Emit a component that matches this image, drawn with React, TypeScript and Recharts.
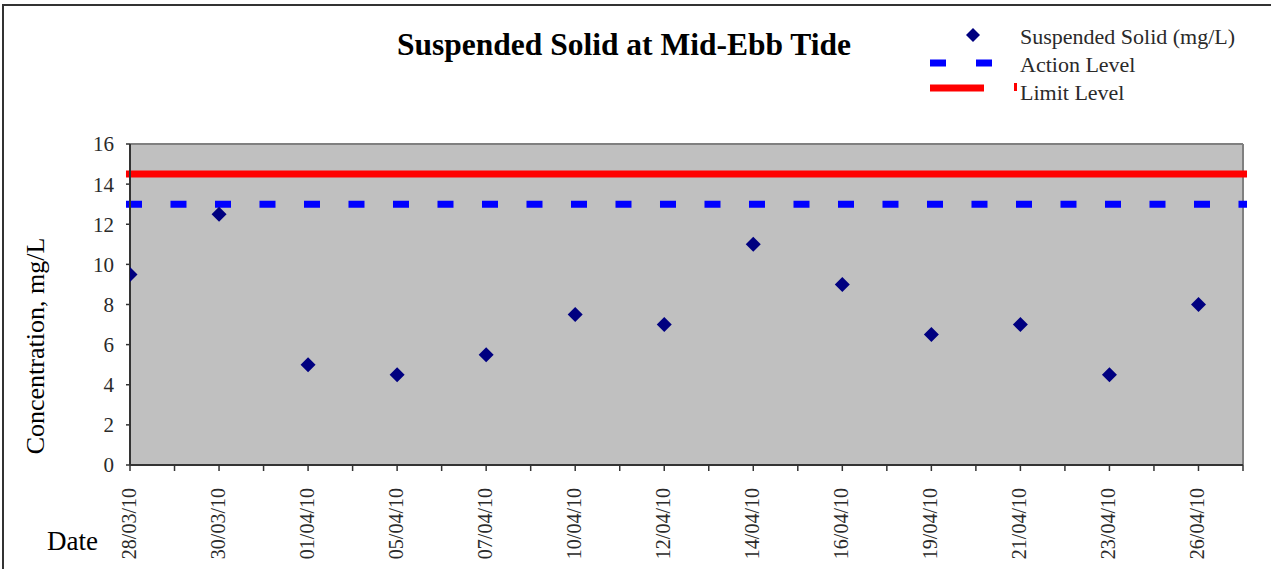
import {
  CartesianGrid,
  ComposedChart,
  ReferenceLine,
  Scatter,
  XAxis,
  YAxis,
} from "recharts";

const dates = [
  "28/03/10",
  "30/03/10",
  "01/04/10",
  "05/04/10",
  "07/04/10",
  "10/04/10",
  "12/04/10",
  "14/04/10",
  "16/04/10",
  "19/04/10",
  "21/04/10",
  "23/04/10",
  "26/04/10",
];
const solids = [9.5, 12.5, 5, 4.5, 5.5, 7.5, 7, 11, 9, 6.5, 7, 4.5, 8];
const actionLevel = 13;
const limitLevel = 14.5;
const yTicks = [0, 2, 4, 6, 8, 10, 12, 14, 16];
// every date sits on an even slot, odd slots are plain tick marks
const slotCount = dates.length * 2 - 1;
const xTicks = Array.from({ length: slotCount + 1 }, (_, i) => i);
// the level lines poke out a little past the plot frame, like Excel draws them
const levelOverhang = 0.09;

const points = dates.map((d, i) => ({ slot: i * 2, date: d, value: solids[i] }));

const FONT = '"Liberation Serif", "DejaVu Serif", serif';
const NAVY = "#000080";

function Diamond(props: any) {
  const { cx, cy } = props;
  if (cx == null || cy == null) return null;
  const r = 7.5;
  return (
    <polygon
      points={`${cx},${cy - r} ${cx + r},${cy} ${cx},${cy + r} ${cx - r},${cy}`}
      fill={NAVY}
    />
  );
}

function DateTick(props: any) {
  const { x, y, payload } = props;
  if (payload.value % 2 !== 0) return null;
  const label = dates[payload.value / 2];
  return (
    <text
      transform={`translate(${x + 6},${y + 15}) rotate(-90)`}
      textAnchor="end"
      fontFamily={FONT}
      fontSize={20}
      fill="#2a2a2a"
    >
      {label}
    </text>
  );
}

function LegendBox() {
  const textStyle = { fontFamily: FONT, fontSize: 22, fill: "#2a2a2a" };
  return (
    <svg
      width={340}
      height={100}
      style={{ position: "absolute", left: 900, top: 24, overflow: "visible" }}
    >
      <polygon points="73,4 80,11 73,18 66,11" fill={NAVY} />
      <text x={120} y={20} {...textStyle}>
        Suspended Solid (mg/L)
      </text>
      <line x1={30} x2={92} y1={39} y2={39} stroke="#0000ff" strokeWidth={7} strokeDasharray="16 30" />
      <text x={120} y={48} {...textStyle}>
        Action Level
      </text>
      <line x1={30} x2={84} y1={64} y2={64} stroke="#ff0000" strokeWidth={7} />
      <rect x={114} y={59} width={3} height={8} fill="#ff0000" />
      <text x={120} y={76} {...textStyle}>
        Limit Level
      </text>
    </svg>
  );
}

export default function App() {
  return (
    <div
      style={{
        position: "absolute",
        left: 0,
        top: 0,
        width: 1271,
        height: 569,
        background: "#fff",
        overflow: "hidden",
      }}
    >
      <div
        style={{
          position: "absolute",
          left: 2,
          top: 4,
          width: 1300,
          height: 600,
          borderTop: "2px solid #333",
          borderLeft: "2px solid #333",
        }}
      />
      <ComposedChart
        width={1271}
        height={569}
        data={points}
        margin={{ top: 144, right: 28, bottom: 0, left: 70 }}
      >
        <CartesianGrid
          fill="#c0c0c0"
          horizontal={false}
          vertical={false}
          stroke="none"
        />
        <text
          x={624}
          y={55}
          textAnchor="middle"
          fontFamily={FONT}
          fontWeight="bold"
          fontSize={31.5}
          fill="#000"
        >
          Suspended Solid at Mid-Ebb Tide
        </text>
        <text
          transform="translate(44,346) rotate(-90)"
          textAnchor="middle"
          fontFamily={FONT}
          fontSize={26}
          fill="#000"
        >
          Concentration, mg/L
        </text>
        <text x={47} y={550} fontFamily={FONT} fontSize={27} fill="#000">
          Date
        </text>
        <XAxis
          type="number"
          dataKey="slot"
          domain={[0, slotCount]}
          ticks={xTicks}
          interval={0}
          height={104}
          tick={<DateTick />}
          tickSize={6}
          axisLine={{ stroke: "#333", strokeWidth: 2 }}
          tickLine={{ stroke: "#333", strokeWidth: 1.5 }}
          allowDataOverflow
        />
        <YAxis
          type="number"
          domain={[0, 16]}
          ticks={yTicks}
          interval={0}
          width={60}
          tickSize={4}
          tickMargin={12}
          tick={{ fontFamily: FONT, fontSize: 21, fill: "#2a2a2a" }}
          axisLine={{ stroke: "#333", strokeWidth: 2 }}
          tickLine={{ stroke: "#333", strokeWidth: 1.5 }}
        />
        <ReferenceLine y={16} stroke="#808080" strokeWidth={2} />
        <ReferenceLine x={slotCount} stroke="#808080" strokeWidth={2} />
        <ReferenceLine
          segment={[
            { x: -levelOverhang, y: limitLevel },
            { x: slotCount + levelOverhang, y: limitLevel },
          ]}
          ifOverflow="visible"
          stroke="#ff0000"
          strokeWidth={7}
        />
        <ReferenceLine
          segment={[
            { x: -levelOverhang, y: actionLevel },
            { x: slotCount + levelOverhang, y: actionLevel },
          ]}
          ifOverflow="visible"
          stroke="#0000ff"
          strokeWidth={7}
          strokeDasharray="16 28.5"
        />
        <Scatter
          dataKey="value"
          name="Suspended Solid (mg/L)"
          shape={<Diamond />}
          isAnimationActive={false}
        />
      </ComposedChart>
      <LegendBox />
    </div>
  );
}
